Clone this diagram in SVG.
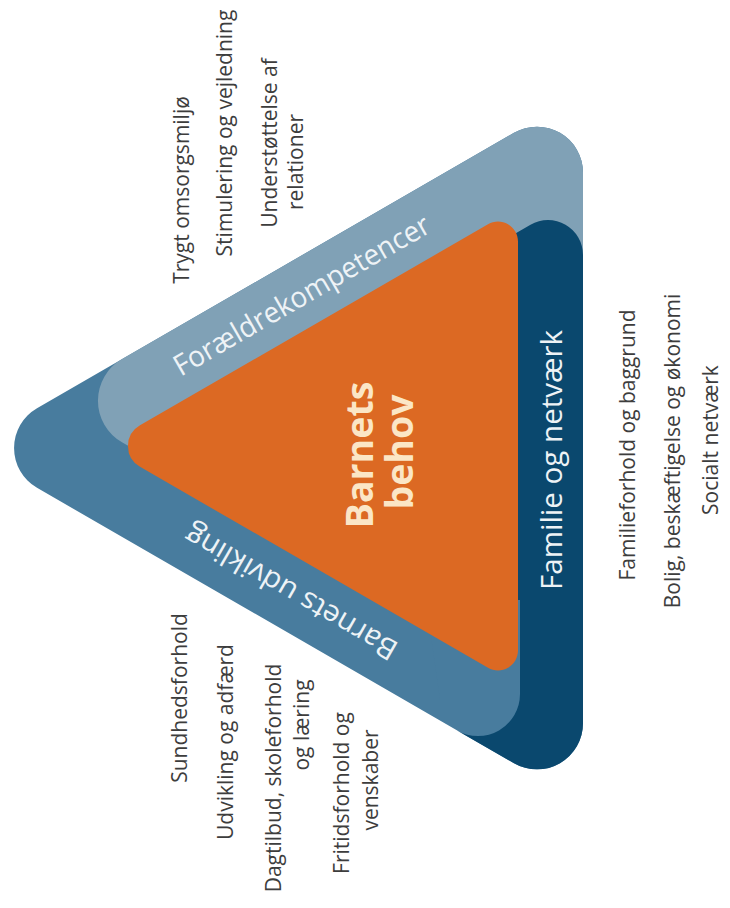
<svg xmlns="http://www.w3.org/2000/svg" width="730" height="908" viewBox="0 0 730 908">
<style>
.lbl{font-family:"Open Sans","Liberation Sans",sans-serif;font-size:21px;fill:#3d3d3d;text-anchor:middle}
.band{font-family:"Open Sans","Liberation Sans",sans-serif;font-size:29px;fill:#eef3f6;text-anchor:middle}
.core{font-family:"Open Sans","Liberation Sans",sans-serif;font-weight:bold;font-size:37.5px;fill:#fbe6c6;text-anchor:middle}
.mid{fill:#487c9e}
.light{fill:#80a1b6}
.navy{fill:#0a486e}
.orange{fill:#dc6923}
</style>
<rect width="730" height="908" fill="#ffffff"/>
<g id="shapes">
  <path id="udvikling-shape" class="mid" d="M37,408.2 L514,132.8 A46 46 0 0 1 583,172.7 L583,723.3 A46 46 0 0 1 514,763.2 L37,487.8 A46 46 0 0 1 37,408.2 Z"/>
  <path id="foraeldre-shape" class="light" d="M122,359.1 L514,132.8 A46 46 0 0 1 583,172.7 L583,656.5 A30 30 0 0 1 538,682.5 L122,442.3 A48 48 0 0 1 122,359.1 Z"/>
  <polygon class="mid" points="420,560 521,560 521,700 440,700"/>
  <path id="familie-shape" class="navy" d="M470,259.6 L530.5,224.7 A35 35 0 0 1 583,255 L583,723.3 A46 46 0 0 1 514,763.2 L457,730.4 A42 42 0 0 0 520,694 L520,600 L470,600 Z"/>
  <path id="behov-shape" class="orange" d="M140,425.2 L488,224.3 A20 20 0 0 1 518,241.6 L518,650.4 A20 20 0 0 1 488,667.7 L140,466.8 A24 24 0 0 1 140,425.2 Z"/>
</g>
<g id="core">
  <text class="core" transform="translate(373,455) rotate(-90)">Barnets</text>
  <text class="core" transform="translate(413,452) rotate(-90)">behov</text>
</g>
<g id="band-foraeldre">
  <text class="band" transform="translate(306.7,303.9) rotate(-30)" textLength="291" lengthAdjust="spacingAndGlyphs">Forældrekompetencer</text>
</g>
<g id="band-udvikling">
  <text class="band" transform="translate(296,584) rotate(-150)" textLength="240" lengthAdjust="spacingAndGlyphs">Barnets udvikling</text>
</g>
<g id="band-familie">
  <text class="band" transform="translate(562,460) rotate(-90)" textLength="260" lengthAdjust="spacingAndGlyphs">Familie og netværk</text>
</g>
<g id="labels-foraeldre">
  <text class="lbl" transform="translate(189,190) rotate(-90)">Trygt omsorgsmiljø</text>
  <text class="lbl" transform="translate(232,133) rotate(-90)">Stimulering og vejledning</text>
  <text class="lbl" transform="translate(277,143) rotate(-90)">Understøttelse af</text>
  <text class="lbl" transform="translate(303,162) rotate(-90)">relationer</text>
</g>
<g id="labels-familie">
  <text class="lbl" transform="translate(635,445) rotate(-90)">Familieforhold og baggrund</text>
  <text class="lbl" transform="translate(680,451) rotate(-90)">Bolig, beskæftigelse og økonomi</text>
  <text class="lbl" transform="translate(718,440) rotate(-90)">Socialt netværk</text>
</g>
<g id="labels-udvikling">
  <text class="lbl" transform="translate(187,698) rotate(-90)">Sundhedsforhold</text>
  <text class="lbl" transform="translate(233,742) rotate(-90)">Udvikling og adfærd</text>
  <text class="lbl" transform="translate(281,778) rotate(-90)">Dagtilbud, skoleforhold</text>
  <text class="lbl" transform="translate(309,725) rotate(-90)">og læring</text>
  <text class="lbl" transform="translate(349,793) rotate(-90)">Fritidsforhold og</text>
  <text class="lbl" transform="translate(378,780) rotate(-90)">venskaber</text>
</g>
</svg>
